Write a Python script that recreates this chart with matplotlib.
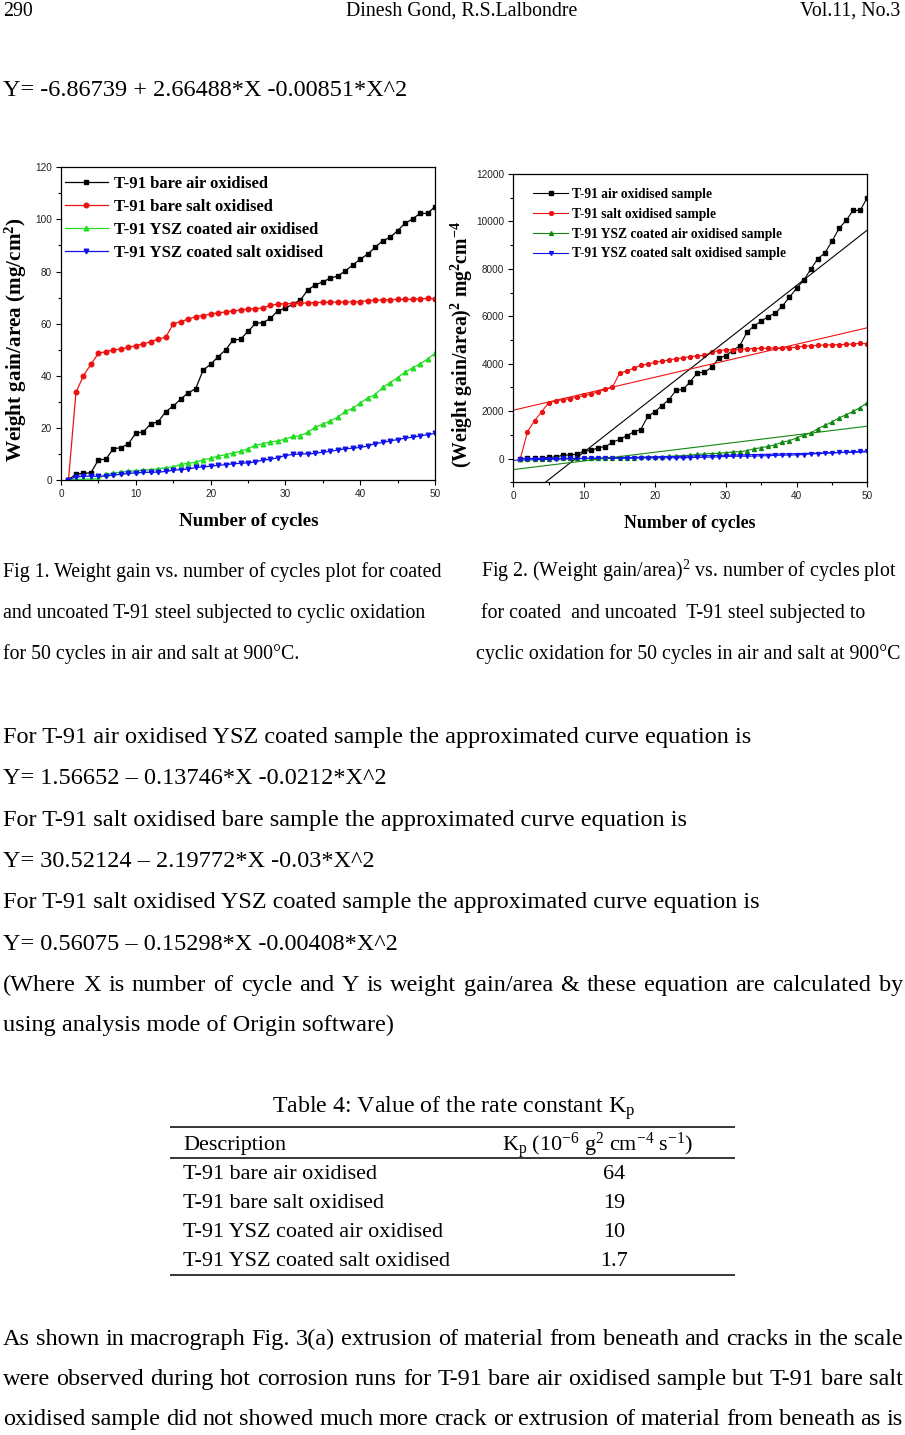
import numpy as np
import matplotlib
matplotlib.use('Agg')
import matplotlib.pyplot as plt
from matplotlib.ticker import MultipleLocator
from matplotlib.font_manager import FontProperties

plt.rcParams['font.family'] = ['Liberation Serif', 'DejaVu Serif']
plt.rcParams['mathtext.fontset'] = 'custom'
plt.rcParams['mathtext.rm'] = 'Liberation Serif'
plt.rcParams['mathtext.it'] = 'Liberation Serif:italic'
plt.rcParams['mathtext.bf'] = 'Liberation Serif:bold'

# ---------------- data ----------------
cycles = list(range(1, 51))

fig1_labels = ['T-91 bare air oxidised', 'T-91 bare salt oxidised',
               'T-91 YSZ coated air oxidised', 'T-91 YSZ coated salt oxidised']
bare_air = [0, 2.3, 2.5, 2.8, 7.7, 8.0, 12.0, 12.4, 13.8, 18.0,
            18.5, 21.5, 22.4, 26.2, 28.4, 31.0, 33.5, 35.0, 42.2, 44.4,
            47.3, 49.9, 53.7, 54.0, 57.0, 60.1, 60.4, 62.0, 65.0, 65.9,
            67.5, 69.0, 73.0, 74.8, 76.1, 77.4, 78.3, 80.2, 82.5, 84.7,
            86.7, 89.3, 91.8, 93.1, 95.7, 98.5, 100.2, 102.3, 102.3, 104.9]
bare_salt = [0, 33.6, 40.0, 44.4, 48.6, 49.3, 49.9, 50.3, 50.9, 51.6,
             52.2, 53.1, 54.1, 54.8, 59.9, 60.8, 61.7, 62.7, 63.1, 63.7,
             64.1, 64.5, 64.9, 65.2, 65.6, 65.8, 66.0, 67.0, 67.5, 67.7,
             67.7, 67.8, 68.0, 68.1, 68.2, 68.2, 68.3, 68.3, 68.4, 68.5,
             68.8, 69.0, 69.1, 69.2, 69.3, 69.3, 69.4, 69.5, 69.7, 69.6]
ysz_air = [0, 0.2, 0.3, 0.4, 0.5, 2.2, 2.6, 3.0, 3.3, 3.6,
           3.8, 4.0, 4.3, 4.7, 5.0, 6.0, 6.4, 6.8, 7.8, 8.3,
           9.2, 9.7, 10.4, 11.0, 12.0, 13.3, 14.0, 14.6, 15.0, 15.7,
           16.7, 17.0, 18.3, 20.3, 21.4, 22.7, 24.1, 26.3, 27.5, 29.5,
           31.5, 32.8, 35.5, 37.4, 39.3, 41.4, 43.0, 44.6, 46.4, 48.6]
ysz_salt = [0, 1.2, 1.4, 1.5, 1.4, 1.6, 1.9, 2.2, 2.5, 2.8,
            2.9, 3.0, 3.0, 3.3, 3.7, 4.0, 4.2, 4.8, 5.0, 5.3,
            5.6, 5.9, 6.2, 6.4, 6.6, 6.9, 7.7, 7.9, 8.6, 9.4,
            9.8, 10.0, 10.0, 10.2, 10.7, 11.0, 11.5, 12.0, 12.2, 12.5,
            13.0, 14.0, 14.4, 15.0, 15.5, 16.1, 16.4, 16.9, 17.4, 17.9]

fig2_labels = ['T-91 air oxidised sample', 'T-91 salt oxidised sample',
               'T-91 YSZ coated air oxidised sample', 'T-91 YSZ coated salt oxidised sample']
air_sq = [0, 5, 6, 8, 59, 64, 144, 154, 190, 324,
          342, 462, 502, 686, 807, 961, 1122, 1225, 1781, 1971,
          2237, 2490, 2884, 2916, 3249, 3612, 3648, 3844, 4225, 4343,
          4556, 4761, 5329, 5595, 5791, 5991, 6131, 6432, 6806, 7174,
          7517, 7974, 8427, 8668, 9158, 9702, 10040, 10465, 10465, 11004]
salt_sq = [0, 1129, 1600, 1971, 2362, 2430, 2490, 2530, 2591, 2663,
           2725, 2820, 2927, 3003, 3588, 3697, 3807, 3931, 3982, 4058,
           4109, 4160, 4212, 4251, 4303, 4330, 4356, 4489, 4556, 4583,
           4583, 4597, 4624, 4638, 4651, 4651, 4665, 4665, 4679, 4692,
           4733, 4761, 4775, 4789, 4802, 4802, 4816, 4830, 4858, 4844]
ysz_air_sq = [0, 0, 0, 0, 0, 5, 7, 9, 11, 13,
              14, 16, 18, 22, 25, 36, 41, 46, 61, 69,
              85, 94, 108, 121, 144, 177, 196, 213, 225, 246,
              279, 289, 335, 412, 458, 515, 581, 692, 756, 870,
              992, 1076, 1260, 1399, 1544, 1714, 1849, 1989, 2153, 2362]
ysz_salt_sq = [0, 1, 2, 2, 2, 3, 4, 5, 6, 8,
               8, 9, 9, 11, 14, 16, 18, 23, 25, 28,
               31, 35, 38, 41, 44, 48, 59, 62, 74, 88,
               96, 100, 100, 104, 114, 121, 132, 144, 149, 156,
               169, 196, 207, 225, 240, 259, 269, 286, 303, 320]
# linear fits drawn in Fig 2 (intercept, slope)
fit_intercept = [-2059, 2040, -464, -70]
fit_slope = [233.9, 69.5, 36.6, 7.0]

table_desc = ['T-91 bare air oxidised', 'T-91 bare salt oxidised',
              'T-91 YSZ coated air oxidised', 'T-91 YSZ coated salt oxidised']
table_kp = ['64', '19', '10', '1.7']

# ---------------- page ----------------
W, H = 905, 1435
fig = plt.figure(figsize=(W / 100, H / 100), dpi=100)
fig.patch.set_facecolor('white')
page = fig.add_axes([0, 0, 1, 1])
page.set_xlim(0, W)
page.set_ylim(H, 0)
page.axis('off')
renderer = fig.canvas.get_renderer()


def measure(s, size, weight='normal', rot=0):
    t = page.text(0, 0, s, fontsize=size, fontweight=weight, rotation=rot)
    bb = t.get_window_extent(renderer)
    t.remove()
    return bb.height if rot else bb.width


def fit(s, target, weight='normal', rot=0):
    return 20 * target / measure(s, 20, weight, rot)


def line(x, yc, s, size, ha='left', weight='normal'):
    base = yc + 0.33 * size * 100 / 72
    return page.text(x, base, s, fontsize=size, ha=ha, va='baseline', fontweight=weight)


def justify(s, x0, x1, yc, size):
    words = s.split()
    base = yc + 0.33 * size * 100 / 72
    ts = [page.text(0, base, w, fontsize=size, va='baseline') for w in words]
    ws = [t.get_window_extent(renderer).width for t in ts]
    gap = (x1 - x0 - sum(ws)) / (len(words) - 1)
    x = x0
    for t, w in zip(ts, ws):
        t.set_x(x)
        x += w + gap


hdr = fit('Dinesh Gond, R.S.Lalbondre', 232)
body = fit('For T-91 air oxidised YSZ coated sample the approximated curve equation is', 747)
cap = fit('cyclic oxidation for 50 cycles in air and salt at 900°C', 422)
tab = fit('T-91 YSZ coated salt oxidised', 268)
ttl = fit('Table 4: Value of the rate constant K$_\\mathrm{p}$', 362)

line(3, 9, '290', hdr)
line(462, 9, 'Dinesh Gond, R.S.Lalbondre', hdr, ha='center')
line(900, 9, 'Vol.11, No.3', hdr, ha='right')
line(3, 88, 'Y= -6.86739 + 2.66488*X -0.00851*X^2', body)

cap_left = ['Fig 1. Weight gain vs. number of cycles plot for coated',
            'and uncoated T-91 steel subjected to cyclic oxidation',
            'for 50 cycles in air and salt at 900°C.']
cap_right = ['Fig 2. (Weight gain/area)$^{2}$ vs. number of cycles plot',
             'for coated  and uncoated  T-91 steel subjected to',
             'cyclic oxidation for 50 cycles in air and salt at 900°C']
cap_right_x = [481, 481, 476]
for i, yc in enumerate([570, 611, 652]):
    line(3, yc, cap_left[i], cap)
    line(cap_right_x[i], yc, cap_right[i], cap)

body_lines = ['For T-91 air oxidised YSZ coated sample the approximated curve equation is',
              'Y= 1.56652 – 0.13746*X -0.0212*X^2',
              'For T-91 salt oxidised bare sample the approximated curve equation is',
              'Y= 30.52124 – 2.19772*X -0.03*X^2',
              'For T-91 salt oxidised YSZ coated sample the approximated curve equation is',
              'Y= 0.56075 – 0.15298*X -0.00408*X^2']
for i, s in enumerate(body_lines):
    line(3, 735 + 41.3 * i, s, body)
justify('(Where X is number of cycle and Y is weight gain/area & these equation are calculated by',
        3, 903, 983, body)
line(3, 1023, 'using analysis mode of Origin software)', body)

# table
line(454, 1105, 'Table 4: Value of the rate constant K$_\\mathrm{p}$', ttl, ha='center')
for yr in [1127, 1158, 1275]:
    page.plot([170, 735], [yr, yr], color='black', lw=1.1, solid_capstyle='butt')
line(183, 1143, 'Description', tab)
line(598, 1143, 'K$_\\mathrm{p}$ (10$^{-6}$ g$^{2}$ cm$^{-4}$ s$^{-1}$)', tab, ha='center')
for i, (d, k) in enumerate(zip(table_desc, table_kp)):
    yc = 1172 + 29 * i
    line(183, yc, d, tab)
    line(614, yc, k, tab, ha='center')

para = ['As shown in macrograph Fig. 3(a) extrusion of material from beneath and cracks in the scale',
        'were observed during hot corrosion runs for T-91 bare air oxidised sample but T-91 bare salt',
        'oxidised sample did not showed much more crack or extrusion of material from beneath as is']
for i, s in enumerate(para):
    justify(s, 3, 903, 1337 + 40 * i, body)

# ---------------- charts ----------------
tickfont = FontProperties(family='Liberation Sans', size=7.2)


def style_axis(ax):
    for sp in ['top', 'right', 'left', 'bottom']:
        ax.spines[sp].set_linewidth(0.9)
    ax.tick_params(which='both', direction='out', top=False, right=False, width=0.8)
    ax.tick_params(which='major', length=3.6, pad=3)
    ax.tick_params(which='minor', length=2.0)
    for lab in ax.get_xticklabels() + ax.get_yticklabels():
        lab.set_fontproperties(tickfont)
        lab.set_color('#222222')


# Fig 1
ax1 = fig.add_axes([61 / W, 1 - 480 / H, 374 / W, 312.7 / H])
col1 = ['#000000', '#ee1111', '#22dd22', '#1111ee']
mk = ['s', 'o', '^', 'v']
for data, lab, c, m in zip([bare_air, bare_salt, ysz_air, ysz_salt], fig1_labels, col1, mk):
    ax1.plot(cycles, data, color=c, marker=m, ms=3.3, lw=0.9, label=lab)
ax1.set_xlim(0, 50)
ax1.set_ylim(0, 120)
ax1.xaxis.set_major_locator(MultipleLocator(10))
ax1.xaxis.set_minor_locator(MultipleLocator(5))
ax1.yaxis.set_major_locator(MultipleLocator(20))
ax1.yaxis.set_minor_locator(MultipleLocator(10))
style_axis(ax1)
lg1 = fit('T-91 bare air oxidised', 155, 'bold')
ax1.legend(loc='upper left', bbox_to_anchor=(65 / W, 1 - 176 / H), bbox_transform=fig.transFigure,
           frameon=False, prop=FontProperties(family='Liberation Serif', weight='bold', size=lg1),
           handlelength=2.55, handletextpad=0.4, labelspacing=0.42, borderaxespad=0, borderpad=0,
           numpoints=1)
yl1 = 'Weight gain/area (mg/cm$^\\mathbf{2}$)'
page.text(16, 340, yl1, fontsize=fit(yl1, 244, 'bold', 90), fontweight='bold',
          rotation=90, ha='center', va='center')
xl = 'Number of cycles'
page.text(249, 522, xl, fontsize=fit(xl, 139, 'bold'), fontweight='bold', ha='center', va='center')

# Fig 2
ax2 = fig.add_axes([513.3 / W, 1 - 482.3 / H, 354 / W, 308.3 / H])
col2 = ['#000000', '#ee1111', '#118811', '#1111ee']
for data, lab, c, m in zip([air_sq, salt_sq, ysz_air_sq, ysz_salt_sq], fig2_labels, col2, mk):
    ax2.plot(cycles, data, color=c, marker=m, ms=2.8, lw=0.8, label=lab)
xs = np.array([0, 50])
for b0, b1, c in zip(fit_intercept, fit_slope, col2):
    ax2.plot(xs, b0 + b1 * xs, color=c, lw=0.8)
ax2.set_xlim(0, 50)
ax2.set_ylim(-1000, 12000)
ax2.xaxis.set_major_locator(MultipleLocator(10))
ax2.xaxis.set_minor_locator(MultipleLocator(5))
ax2.yaxis.set_major_locator(MultipleLocator(2000))
ax2.yaxis.set_minor_locator(MultipleLocator(1000))
style_axis(ax2)
lg2 = fit('T-91 air oxidised sample', 140, 'bold')
h2, l2 = ax2.get_legend_handles_labels()
ax2.legend(h2[:4], l2[:4], loc='upper left', bbox_to_anchor=(533 / W, 1 - 188 / H),
           bbox_transform=fig.transFigure, frameon=False,
           prop=FontProperties(family='Liberation Serif', weight='bold', size=lg2),
           handlelength=2.6, handletextpad=0.3, labelspacing=0.5, borderaxespad=0, borderpad=0,
           numpoints=1)
yl2 = '(Weight gain/area)$^\\mathbf{2}$ mg$^\\mathbf{2}$cm$^\\mathbf{-4}$'
page.text(462, 345, yl2, fontsize=fit(yl2, 246, 'bold', 90), fontweight='bold',
          rotation=90, ha='center', va='center')
page.text(690, 523, xl, fontsize=fit(xl, 131, 'bold'), fontweight='bold', ha='center', va='center')

fig.savefig('out.png', dpi=100, facecolor='white')
